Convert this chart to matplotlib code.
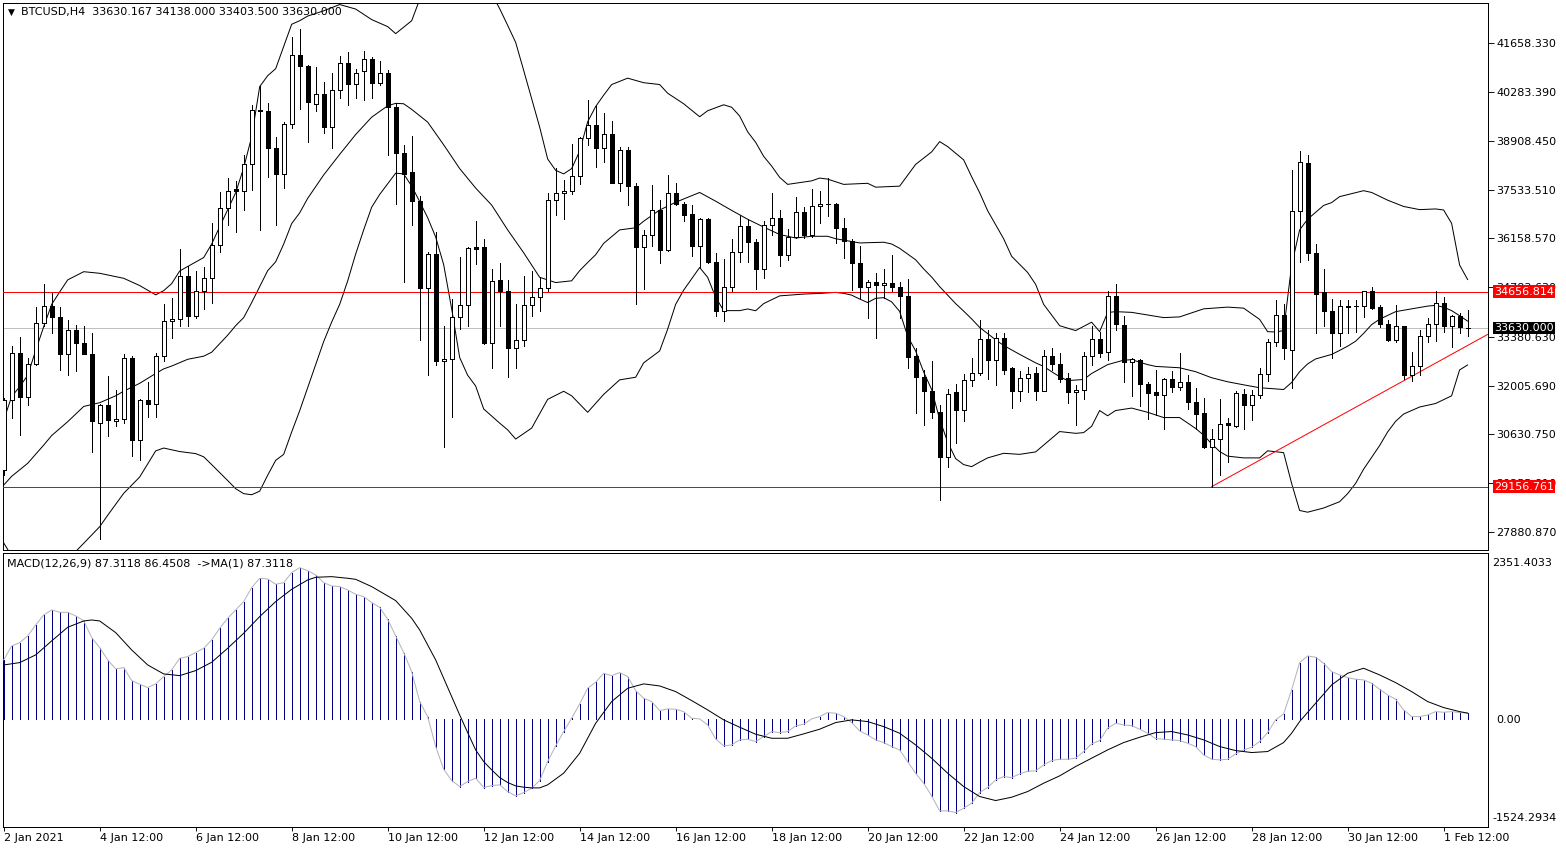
import matplotlib
matplotlib.use("Agg")
import matplotlib.pyplot as plt

# BTCUSD H4 candles, first bar = 2 Jan 2021 12:00
opens = [29623, 31601, 32937, 31700, 32620, 33777, 34242, 33945, 32907, 33579,
         33204, 32907, 30959, 31453, 31008, 31057, 32788, 30464, 31601, 31502,
         32838, 33827, 33876, 35112, 33975, 34667, 35043, 35973, 37011, 37560,
         37510, 38247, 39780, 39741, 38722, 37980, 39395, 41343, 41027, 39958,
         40225, 39316, 40354, 41116, 40502, 40868, 41234, 40542, 40819, 39879,
         38574, 38030, 37209, 34766, 35726, 32689, 32759, 33955, 34291, 35904,
         35904, 33213, 34984, 34667, 33055, 33283, 34291, 34519, 34766, 37239,
         37436, 37506, 37931, 38989, 39365, 38722, 39118, 37733, 38643, 37634,
         35904, 36250, 36972, 35834, 37436, 37120, 36843, 35933, 36695, 35508,
         34123, 34796, 35785, 36497, 36072, 35310, 36546, 36744, 35686, 36200,
         36912, 36269, 37061, 37140, 37140, 36447, 36091, 35478, 34786, 34944,
         34835, 34895, 34786, 34549, 32838, 32264, 31868, 31255, 29999, 31819,
         31334, 32165, 32363, 33312, 32719, 33362, 32491, 31868, 32224, 32363,
         31868, 32857, 32620, 32224, 31829, 31898, 32857, 33332, 32966, 34539,
         33728, 32670, 32719, 32066, 31819, 31730, 32195, 31977, 32096, 31532,
         31235, 30266, 30513, 30959, 30879, 31770, 31473, 31750, 32323, 33233,
         33995, 33016, 36942, 38297, 35755, 34648, 34104, 33480, 34222, 34240,
         34252, 34687, 34222, 33757, 33302, 33678, 32294, 32561, 33411, 33757,
         34351, 33678, 33975, 33630.167]
highs = [31651, 33134, 33382, 32788, 34222, 34865, 34618, 34212, 33856, 33728,
         33678, 33480, 31502, 32274, 31898, 32887, 32838, 31621, 32096, 32937,
         34321, 34489, 35874, 35389, 35241, 35360, 36596, 37456, 37852, 37783,
         38524, 39909, 40453, 39988, 39019, 39434, 41838, 42055, 41046, 40997,
         40582, 40819, 41294, 41412, 40947, 41442, 41280, 41175, 40898, 39988,
         38791, 39039, 37367, 35775, 36349, 33698, 34440, 35627, 35904, 36645,
         36131, 35290, 35478, 34984, 34321, 35112, 35231, 35063, 37436, 38149,
         37802, 38821, 39019, 40077, 39889, 39691, 39464, 38742, 38742, 37733,
         36398, 37664, 37239, 37951, 37733, 37189, 37110, 36724, 36744, 35755,
         35577, 36151, 36823, 36695, 36151, 36645, 37436, 36972, 36418, 37318,
         37041, 37565, 37486, 37852, 37160, 36744, 36151, 35953, 34994, 35182,
         35310, 35686, 34944, 35013, 33055, 32442, 32709, 31453, 31918, 32046,
         32343, 32788, 33856, 33579, 33480, 33500, 32521, 32412, 32541, 32521,
         33006, 33055, 32937, 32373, 32017, 32956, 33698, 33530, 34687, 34865,
         33975, 32788, 32768, 32096, 32462, 32224, 32412, 32937, 32294, 31948,
         31651, 30781, 31631, 31107, 31849, 31918, 31878, 32511, 33332, 34420,
         34321, 38099, 38623, 38505, 36002, 35310, 34440, 34420, 34420, 34420,
         34687, 34786, 34272, 33846, 34272, 33698, 32956, 33579, 33926, 34687,
         34519, 33990, 34044, 34138.0]
lows = [29475, 31107, 30612, 31453, 32590, 33678, 33480, 32462, 32294, 32422,
        32887, 30138, 27695, 30583, 30879, 30959, 30019, 29900, 31127, 31127,
        32709, 33362, 33698, 33678, 33926, 34173, 34351, 35785, 36546, 36329,
        36972, 37535, 36398, 37882, 36546, 37585, 39286, 39810, 38871, 39761,
        39138, 38722, 40107, 39929, 40107, 40057, 40127, 40473, 38524, 37120,
        34944, 36546, 33283, 32294, 32590, 30266, 31127, 33609, 33678, 35439,
        33184, 32491, 33678, 32264, 32511, 33134, 33975, 34123, 34667, 36823,
        36715, 37407, 37704, 38801, 38178, 38327, 37720, 37486, 37110, 34321,
        34746, 35953, 35478, 35805, 37110, 36645, 35676, 35360, 35458, 33975,
        33827, 34667, 35508, 35508, 34737, 35043, 36269, 35389, 35538, 36171,
        36180, 36200, 36596, 36794, 36022, 35607, 34717, 34469, 33926, 33362,
        34469, 34667, 33926, 32491, 31226, 30909, 31107, 28783, 29722, 30395,
        31008, 31997, 32294, 32195, 32027, 32343, 31384, 31582, 31819, 31601,
        31849, 32462, 32096, 31522, 30909, 31631, 32590, 32808, 32739, 33579,
        32116, 31720, 31423, 31077, 31186, 30790, 31829, 31898, 31354, 30790,
        30237, 29156.761, 29475, 29841, 30830, 30790, 31038, 31651, 32126, 33115,
        32768, 31948, 35508, 35538, 33480, 33678, 32788, 33134, 33480, 33530,
        33945, 34173, 33659, 33253, 33233, 32195, 32145, 32294, 33233, 33253,
        33530, 33085, 33500, 33403.5]
closes = [31601, 32937, 31700, 32620, 33777, 34242, 33945, 32907, 33579, 33204,
          32907, 31008, 31453, 31028, 31057, 32788, 30464, 31601, 31502, 32838,
          33827, 33876, 35112, 33975, 34667, 35043, 35973, 37011, 37506, 37510,
          38247, 39790, 39741, 38722, 37980, 39395, 41343, 41027, 40008, 40225,
          39316, 40354, 41096, 40502, 40829, 41234, 40542, 40819, 39879, 38574,
          37980, 37209, 34766, 35726, 32689, 32759, 33955, 34291, 35884, 35860,
          33213, 34964, 34667, 33055, 33283, 34291, 34519, 34766, 37239, 37436,
          37506, 37931, 38989, 39365, 38722, 39118, 37733, 38643, 37634, 35904,
          36250, 36972, 35834, 37436, 37120, 36823, 35933, 36695, 35508, 34123,
          34796, 35785, 36497, 36072, 35310, 36546, 36744, 35686, 36200, 36912,
          36269, 37061, 37120, 37120, 36467, 36091, 35478, 34796, 34944, 34835,
          34895, 34786, 34549, 32818, 32264, 31868, 31255, 29999, 31779, 31334,
          32165, 32363, 33312, 32719, 33362, 32462, 31868, 32224, 32323, 31868,
          32857, 32620, 32195, 31829, 31898, 32857, 33332, 32917, 34539, 33748,
          32660, 32759, 32066, 31799, 31730, 32195, 31977, 32096, 31532, 31206,
          30266, 30513, 30929, 30909, 31799, 31473, 31750, 32323, 33233, 33995,
          33055, 36942, 38327, 35755, 34598, 34104, 33480, 34242, 34252, 34255,
          34667, 34202, 33757, 33283, 33678, 32294, 32561, 33411, 33757, 34351,
          33678, 33975, 33649, 33630.0]

# Bollinger bands (bar index, price)
bb_up_x = [0, 1, 2, 3, 4, 5, 6, 7, 8, 10, 12, 15, 17, 19, 20, 21, 22, 25, 26, 27,
           29, 30, 31, 32, 33, 34, 36, 37, 38, 40, 42, 44, 46, 48, 49, 51, 52, 54, 56, 58,
           60, 62, 63, 64, 65, 66, 67, 68, 69, 70, 71, 72, 73, 74, 75, 76, 78, 80, 82, 83,
           85, 87, 88, 90, 91, 92, 93, 94, 95, 96, 97, 98, 101, 102, 103, 105, 108, 109, 112, 114,
           116, 117, 118, 120, 121, 122, 123, 125, 126, 128, 129, 130, 132, 134, 136, 137, 138, 139, 141, 145,
           147, 150, 153, 155, 157, 158, 159, 160, 161, 162, 163, 165, 166, 167, 170, 171, 173, 175, 177, 179,
           180, 181, 182, 183]
bb_up = [31040, 31700, 31977, 32300, 33000, 33670, 34300, 34650, 34990, 35221, 35176, 35035, 34830, 34568, 34687, 34885, 35241, 35620, 36002, 36490,
         37450, 38150, 39029, 40440, 40750, 40947, 42200, 42300, 42431, 42579, 42757, 42629, 42332, 42134, 41936, 42300, 42900, 43800, 44200, 44100,
         43500, 42640, 42170, 41689, 40900, 40100, 39300, 38400, 38080, 37980, 38129, 38623, 39450, 39880, 40200, 40500, 40680, 40552, 40500, 40255,
         39958, 39592, 39761, 39929, 39860, 39612, 39167, 38871, 38475, 38200, 37882, 37684, 37783, 37862, 37832, 37684, 37714, 37605, 37634, 38248,
         38600, 38890, 38750, 38376, 37900, 37450, 36942, 36151, 35656, 35200, 34865, 34300, 33698, 33560, 33797, 33530, 34070, 34094, 34074, 33926,
         33946, 34173, 34222, 34193, 33876, 33530, 33520, 33560, 35400, 36400, 36700, 37090, 37170, 37338, 37506, 37456, 37239, 37061, 36972, 36991,
         36962, 36586, 35410, 35000]
bb_mid_x = [0, 1, 3, 5, 6, 8, 10, 12, 14, 15, 17, 19, 20, 21, 23, 25, 26, 28, 29, 30,
            31, 32, 33, 34, 35, 36, 37, 38, 40, 42, 44, 46, 48, 49, 50, 51, 53, 55, 57, 59,
            61, 63, 65, 67, 69, 71, 72, 73, 74, 75, 77, 79, 80, 82, 84, 87, 89, 91, 93, 95,
            97, 99, 101, 103, 104, 106, 107, 110, 111, 112, 114, 115, 116, 117, 119, 120, 121, 122, 124, 125,
            127, 129, 130, 131, 132, 133, 135, 136, 138, 140, 141, 143, 144, 147, 149, 151, 153, 155, 157, 160,
            161, 162, 163, 164, 166, 167, 168, 169, 170, 171, 172, 174, 176, 178, 179, 180, 181, 182, 183]
bb_mid = [29203, 29450, 29816, 30330, 30600, 30990, 31420, 31526, 31720, 31850, 32073, 32350, 32480, 32560, 32750, 32838, 32950, 33430, 33700, 33926,
          34350, 34800, 35250, 35500, 36000, 36580, 36880, 37290, 37950, 38530, 39090, 39580, 39900, 39970, 39958, 39800, 39440, 38800, 38130, 37580,
          37100, 36400, 35755, 35063, 34915, 34964, 35250, 35480, 35700, 36020, 36400, 36460, 36645, 36960, 37180, 37456, 37210, 36950, 36700, 36480,
          36270, 36171, 36220, 36220, 36151, 36072, 36032, 36052, 36003, 35880, 35557, 35300, 35070, 34800, 34321, 34110, 33890, 33650, 33300, 33140,
          32890, 32650, 32550, 32400, 32260, 32150, 32180, 32350, 32600, 32725, 32739, 32600, 32550, 32511, 32400, 32230, 32116, 32030, 31948, 31898,
          32096, 32400, 32620, 32760, 32887, 33000, 33120, 33260, 33480, 33728, 33880, 34094, 34173, 34250, 34272, 34220, 34123, 33980, 33827]
bb_low_x = [0, 1, 2, 4, 6, 8, 9, 10, 12, 13, 14, 15, 16, 17, 19, 20, 22, 24, 25, 26,
            28, 29, 30, 31, 32, 33, 34, 35, 36, 37, 38, 39, 40, 41, 42, 43, 44, 45, 46, 47,
            48, 49, 50, 51, 52, 53, 54, 55, 56, 57, 58, 59, 60, 61, 62, 63, 64, 66, 68, 70,
            71, 73, 75, 77, 79, 80, 82, 83, 84, 85, 87, 88, 89, 90, 92, 93, 94, 95, 97, 100,
            102, 104, 105, 106, 107, 108, 109, 110, 111, 112, 113, 114, 115, 116, 117, 118, 119, 120, 121, 122,
            123, 125, 127, 129, 130, 132, 134, 135, 136, 137, 138, 139, 141, 143, 145, 147, 149, 150, 151, 152,
            153, 155, 157, 158, 160, 161, 162, 163, 165, 167, 168, 169, 170, 172, 173, 174, 175, 177, 179, 181,
            182, 183]
bb_low = [27570, 27200, 27000, 26700, 26700, 27100, 27330, 27560, 28028, 28350, 28660, 28970, 29200, 29430, 30167, 30247, 30148, 30090, 30000, 29780,
          29330, 29100, 28960, 28930, 29030, 29480, 29900, 30069, 30700, 31300, 31950, 32600, 33250, 33800, 34300, 34960, 35720, 36400, 37041, 37400,
          37700, 38000, 37980, 37634, 37200, 36744, 36200, 35420, 34173, 32800, 32300, 31997, 31350, 31150, 30950, 30760, 30500, 30810, 31620, 31848,
          31720, 31255, 31760, 32170, 32244, 32650, 32986, 33600, 34300, 34700, 35340, 35063, 34500, 34123, 34123, 34170, 34120, 34321, 34539, 34590,
          34608, 34638, 34610, 34560, 34450, 34351, 34470, 34489, 34371, 34100, 33400, 32986, 32393, 31898, 31058, 30415, 29950, 29780, 29722, 29850,
          29969, 30098, 30069, 30138, 30330, 30712, 30662, 30682, 30860, 31305, 31157, 31305, 31374, 31255, 31107, 31107, 30800, 30612, 30365, 30150,
          30019, 29969, 29969, 30168, 30118, 29250, 28486, 28437, 28555, 28733, 28960, 29250, 29650, 30316, 30700, 31000, 31206, 31404, 31503, 31720,
          32450, 32590]

# MACD(12,26,9) main values, one per bar
macd = [839, 1037, 1084, 1178, 1334, 1475, 1546, 1513, 1513, 1461,
        1395, 1155, 1013, 839, 712, 731, 547, 495, 448, 500,
        603, 698, 862, 886, 943, 1004, 1122, 1287, 1428, 1546,
        1664, 1862, 1994, 1984, 1909, 1932, 2074, 2144, 2102, 2041,
        1932, 1885, 1876, 1829, 1767, 1734, 1650, 1584, 1414, 1178,
        943, 674, 250, 38, -386, -707, -867, -952, -881, -834,
        -966, -938, -928, -1023, -1084, -1037, -976, -867, -599, -377,
        -174, 14, 217, 438, 523, 650, 617, 660, 603, 405,
        297, 250, 123, 146, 141, 108, 14, 5, -80, -278,
        -377, -363, -292, -283, -316, -245, -174, -189, -174, -94,
        -71, 5, 38, 94, 85, 38, -47, -165, -222, -292,
        -330, -386, -434, -599, -763, -905, -1084, -1296, -1296, -1320,
        -1258, -1188, -1037, -966, -858, -811, -825, -773, -735, -731,
        -646, -584, -566, -566, -551, -457, -349, -302, -127, -57,
        -80, -90, -141, -198, -273, -283, -292, -302, -339, -386,
        -504, -566, -575, -566, -490, -434, -396, -316, -189, -9,
        75, 415, 801, 895, 877, 792, 674, 627, 589, 566,
        556, 509, 424, 344, 283, 132, 38, 38, 61, 108,
        99, 108, 94, 87.3118]
# signal line (read at these bars)
sig_x = [0, 2, 4, 6, 8, 10, 11, 12, 14, 16, 18, 20, 22, 24, 26, 28, 30, 32, 34, 36,
         38, 39, 41, 43, 44, 46, 48, 49, 51, 52, 54, 56, 57, 58, 59, 60, 61, 62, 63, 64,
         65, 66, 67, 68, 70, 72, 74, 76, 78, 80, 82, 84, 86, 88, 90, 92, 94, 96, 98, 100,
         102, 104, 106, 108, 110, 112, 114, 116, 118, 120, 122, 124, 126, 128, 130, 132, 134, 136, 138, 140,
         142, 144, 146, 148, 150, 152, 154, 156, 158, 160, 161, 162, 164, 166, 168, 170, 172, 174, 176, 178,
         180, 182, 183]
sig = [768, 801, 910, 1108, 1301, 1390, 1404, 1390, 1225, 980, 768, 641, 617, 688, 806, 1004, 1216, 1452, 1664, 1838,
       1970, 2008, 2017, 1994, 1979, 1876, 1744, 1678, 1428, 1263, 839, 320, 61, -189, -434, -599, -716, -825, -895, -943,
       -961, -971, -971, -928, -763, -481, -57, 250, 438, 500, 471, 391, 264, 132, -9, -113, -212, -269, -269, -207,
       -141, -47, -9, -33, -104, -198, -363, -551, -763, -952, -1093, -1150, -1103, -1023, -905, -801, -669, -551, -434, -330,
       -255, -189, -174, -222, -292, -386, -443, -471, -457, -330, -198, -33, 226, 485, 650, 721, 627, 518, 391, 250,
       165, 108, 86.4508]

price_ticks = [41658.330, 40283.390, 38908.450, 37533.510, 36158.570, 34783.630,
               33380.630, 32005.690, 30630.750, 29255.810, 27880.870]
level_hi = 34656.814
level_lo = 29156.761
last_price = 33630.000
trend_x = [151, 183]
trend_y = [29156.761, 33140]
macd_top = 2351.4033
macd_bottom = -1524.2934

date_pos = [0, 12, 24, 36, 48, 60, 72, 84, 96, 108, 120, 132, 144, 156, 168, 180]
date_labels = ["2 Jan 2021", "4 Jan 12:00", "6 Jan 12:00", "8 Jan 12:00", "10 Jan 12:00",
               "12 Jan 12:00", "14 Jan 12:00", "16 Jan 12:00", "18 Jan 12:00", "20 Jan 12:00",
               "22 Jan 12:00", "24 Jan 12:00", "26 Jan 12:00", "28 Jan 12:00", "30 Jan 12:00",
               "1 Feb 12:00"]

W, H = 1566, 850
LW = 0.72      # about one pixel
PX = 0.66      # crisp one-pixel lines (no antialiasing)
plt.rcParams['font.family'] = ['DejaVu Sans']
fig = plt.figure(figsize=(W / 100, H / 100), dpi=100)
ax = fig.add_axes([2.5 / W, 1 - 550 / H, (1488 - 2.5) / W, (550 - 3) / H])
ax2 = fig.add_axes([2.5 / W, 1 - 827 / H, (1488 - 2.5) / W, (827 - 553) / H])
xmin, xmax = -0.15, 185.55
x = list(range(len(closes)))

# price window
ax.axhline(last_price, color="#c0c0c0", lw=PX, zorder=1, antialiased=False)
ax.axhline(level_hi, color="#ff0000", lw=PX, zorder=2.6, antialiased=False)
ax.axhline(level_lo, color="#ff0000", lw=PX, zorder=2.6, antialiased=False)
slope = (trend_y[1] - trend_y[0]) / (trend_x[1] - trend_x[0])
ax.plot([trend_x[0], xmax], [trend_y[0], trend_y[0] + slope * (xmax - trend_x[0])],
        color="#ff0000", lw=LW, zorder=2.6)

ax.plot(bb_up_x, bb_up, color="black", lw=LW, zorder=2)
ax.plot(bb_mid_x, bb_mid, color="black", lw=LW, zorder=2)
ax.plot(bb_low_x, bb_low, color="black", lw=LW, zorder=2)

ax.vlines(x, lows, highs, color="black", lw=PX, zorder=3, antialiased=False)
bottoms = [min(o, c) for o, c in zip(opens, closes)]
heights = [abs(c - o) for o, c in zip(opens, closes)]
colors = ["white" if c >= o else "black" for o, c in zip(opens, closes)]
ax.bar(x, heights, width=0.5, bottom=bottoms, color=colors, edgecolor="black",
       linewidth=PX, zorder=4, antialiased=False)

ax.set_xlim(xmin, xmax)
ax.set_ylim(27371, 42800)
ax.yaxis.tick_right()
ax.set_yticks(price_ticks)
ax.set_yticklabels(["%.3f" % v for v in price_ticks])
ax.tick_params(axis="y", length=4, width=PX, pad=2, labelsize=8, colors="black")
ax.tick_params(axis="x", bottom=False, labelbottom=False)

ytr = ax.get_yaxis_transform()
for val, bg in [(level_hi, "#ff0000"), (last_price, "black"), (level_lo, "#ff0000")]:
    ax.text(1.004, val, "%.3f" % val, transform=ytr, ha="left", va="center",
            color="white", fontsize=8, clip_on=False, zorder=10,
            bbox=dict(boxstyle="square,pad=0.12", fc=bg, ec="none"))

fig.text(8 / W, 1 - 12 / H, "\u25bc", fontsize=6.5, va="center", ha="left")
fig.text(21 / W, 1 - 12 / H, "BTCUSD,H4  33630.167 34138.000 33403.500 33630.000",
         fontsize=8, va="center", ha="left", color="black")

# MACD window
ax2.vlines(x, 0, macd, color="#000080", lw=PX, antialiased=False, zorder=2)
ax2.plot(x, macd, color="#b4b4b4", lw=LW, zorder=3)
ax2.plot(sig_x, sig, color="black", lw=LW, zorder=4)
ax2.set_xlim(xmin, xmax)
ax2.set_ylim(macd_bottom, macd_top)
ax2.yaxis.tick_right()
ax2.set_yticks([0])
ax2.set_yticklabels(["0.00"])
ax2.tick_params(axis="y", length=0, pad=6, labelsize=8)
fig.text(1492 / W, 1 - 563 / H, "%.4f" % macd_top, fontsize=8, va="center", ha="left")
fig.text(1492 / W, 1 - 818 / H, "%.4f" % macd_bottom, fontsize=8, va="center", ha="left")
ax2.set_xticks(date_pos)
ax2.set_xticklabels(date_labels, ha="left")
ax2.tick_params(axis="x", length=3, width=PX, pad=1, labelsize=8)
fig.text(7 / W, 1 - 564 / H, "MACD(12,26,9) 87.3118 86.4508  ->MA(1) 87.3118",
         fontsize=8, va="center", ha="left")

for a in (ax, ax2):
    for s in a.spines.values():
        s.set_linewidth(LW)
        s.set_color("black")

fig.savefig("out.png", dpi=100, facecolor="white")
